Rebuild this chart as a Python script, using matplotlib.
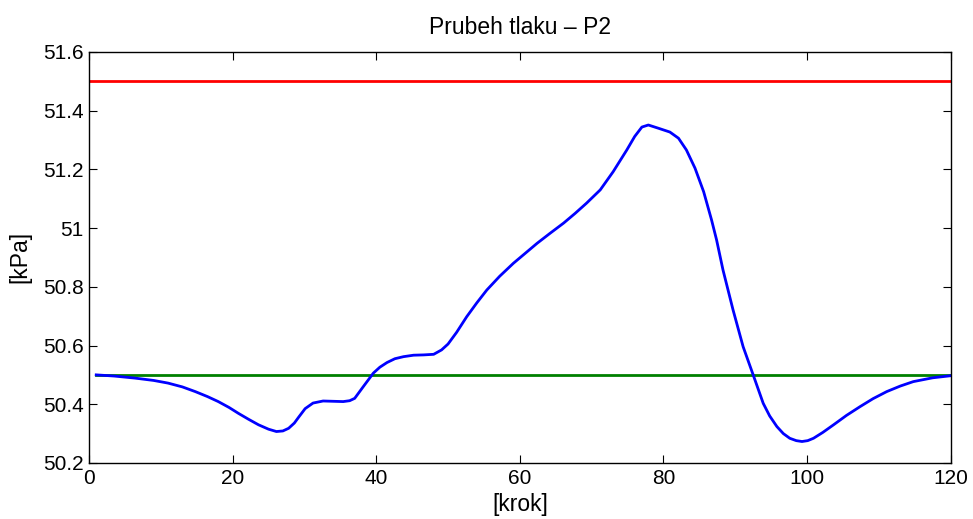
import numpy as np
import matplotlib
matplotlib.use('Agg')
import matplotlib.pyplot as plt

plt.rcParams['font.family'] = ['Liberation Sans', 'DejaVu Sans']

# pressure trace P2 sampled along the step axis
krok = [1, 3.5, 6.4, 9, 11.0, 13, 14.8, 16.5, 18.0, 19.5, 20.8, 22.2, 23.6, 25,
        26.1, 27, 27.8, 28.6, 29.2, 30.1, 31.2, 32.6, 34, 35.4, 36.3, 37.0, 37.6,
        38.2, 39.6, 40.5, 41.5, 42.6, 43.8, 45.2, 46.6, 48.0, 49.1, 50.0, 51.2,
        52.6, 54, 55.4, 57.2, 59.1, 60.8, 62.4, 64.2, 66.1, 67.7, 69.3, 71.2, 73.0,
        74.9, 76.0, 77.0, 77.9, 79.3, 80.9, 82.1, 83.2, 84.4, 85.6, 86.7, 87.4,
        88.3, 89.7, 91.1, 92.5, 93.9, 94.8, 95.8, 96.7, 97.6, 98.5, 99.3, 100.1,
        100.9, 102.2, 103.7, 105.5, 107.4, 109.2, 111.1, 113, 114.8, 117.5, 120]
tlak = [50.5, 50.496, 50.489, 50.481, 50.472, 50.459, 50.443, 50.426, 50.409,
        50.389, 50.369, 50.349, 50.330, 50.315, 50.307, 50.309, 50.318, 50.336,
        50.356, 50.385, 50.404, 50.411, 50.410, 50.409, 50.412, 50.42, 50.44,
        50.46, 50.506, 50.526, 50.542, 50.555, 50.562, 50.567, 50.568, 50.570,
        50.585, 50.605, 50.645, 50.698, 50.745, 50.789, 50.836, 50.88, 50.915,
        50.948, 50.982, 51.017, 51.05, 51.085, 51.13, 51.192, 51.266, 51.312,
        51.344, 51.351, 51.34, 51.327, 51.306, 51.266, 51.204, 51.124, 51.028,
        50.96, 50.857, 50.721, 50.596, 50.5, 50.403, 50.36, 50.324, 50.300,
        50.284, 50.276, 50.273, 50.276, 50.284, 50.304, 50.33, 50.362, 50.392,
        50.419, 50.443, 50.462, 50.477, 50.490, 50.497]

horni_mez = 51.5    # upper limit
pozadovana = 50.5   # set point

fig = plt.figure(figsize=(9.73, 5.19), dpi=100)
ax = fig.add_axes([0.0915, 0.108, 0.8855, 0.792])

ax.plot([0, 120], [horni_mez, horni_mez], color=(1, 0, 0), lw=2)
ax.plot([1, 120], [pozadovana, pozadovana], color=(0, 0.5, 0), lw=2)
ax.plot(krok, tlak, color=(0, 0, 1), lw=2)

ax.set_xlim(0, 120)
ax.set_ylim(50.2, 51.6)
ax.set_xticks(np.arange(0, 121, 20))
yt = [50.2, 50.4, 50.6, 50.8, 51.0, 51.2, 51.4, 51.6]
ax.set_yticks(yt)
ax.set_yticklabels(['%g' % v for v in yt])
ax.tick_params(direction='in', length=6, width=0.8, labelsize=15,
               top=True, right=True, pad=4)
for s in ax.spines.values():
    s.set_linewidth(1.0)

ax.set_title('Prubeh tlaku \u2013 P2', fontsize=16.5, pad=13)
ax.set_xlabel('[krok]', fontsize=16.5, labelpad=4)
ax.set_ylabel('[kPa]', fontsize=16.5, labelpad=8)

fig.savefig('out.png', dpi=100)
